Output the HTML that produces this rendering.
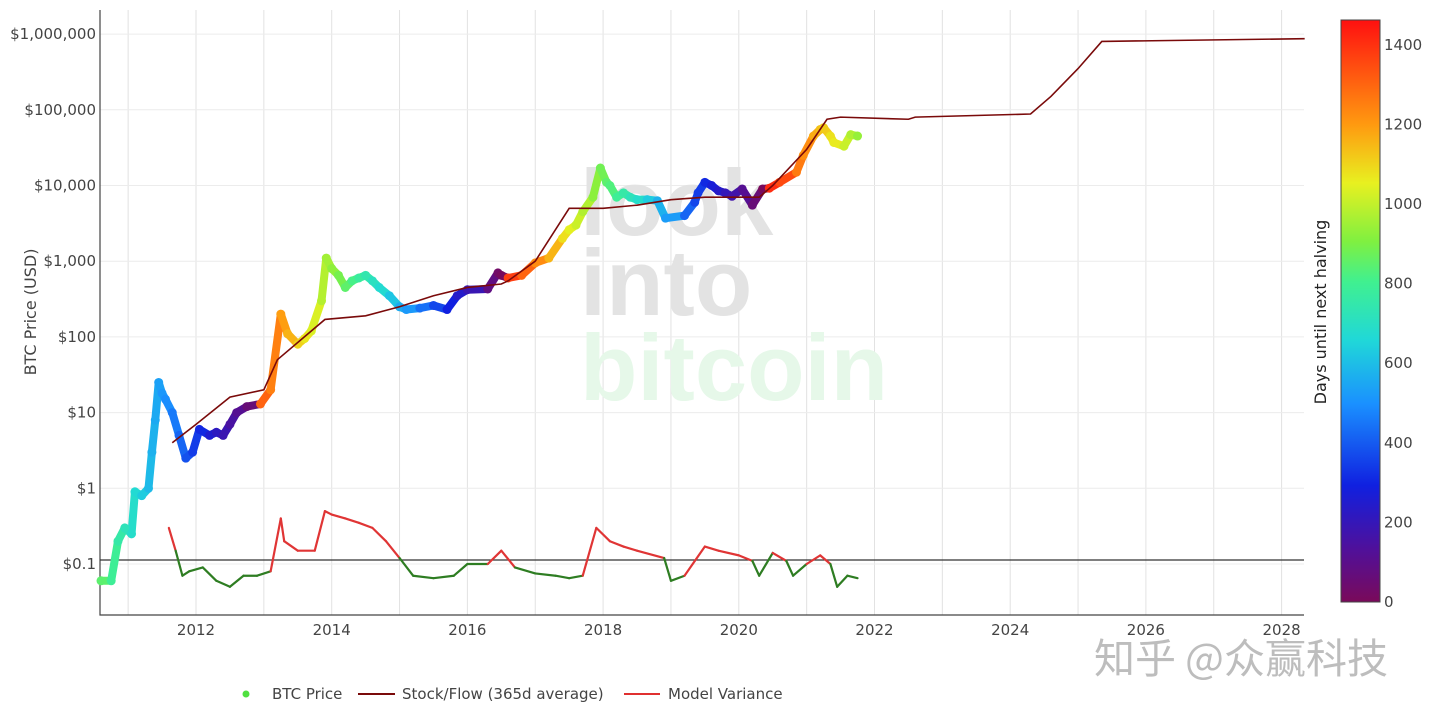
<!DOCTYPE html>
<html><head><meta charset="utf-8"><style>
html,body{margin:0;padding:0;background:#fff;width:1440px;height:717px;overflow:hidden;font-family:"Liberation Sans","Noto Sans CJK SC",sans-serif}
svg text{font-family:"DejaVu Sans","Liberation Sans","Noto Sans CJK SC",sans-serif}
</style></head><body>
<svg id="chart" width="1440" height="717" xmlns="http://www.w3.org/2000/svg">
<defs>
<linearGradient id="cbg" x1="0" y1="1" x2="0" y2="0">
<stop offset="0" stop-color="#7a0a5a"/><stop offset="0.09" stop-color="#50109a"/><stop offset="0.2" stop-color="#1020e0"/>
<stop offset="0.34" stop-color="#1a90ff"/><stop offset="0.45" stop-color="#20d8d8"/><stop offset="0.55" stop-color="#40f090"/>
<stop offset="0.62" stop-color="#80f040"/><stop offset="0.72" stop-color="#e8f020"/><stop offset="0.82" stop-color="#ff9a10"/>
<stop offset="1" stop-color="#ff1010"/></linearGradient>
</defs>
<g id="grid"></g>
<g font-weight="bold" font-size="94">
<text x="580" y="235" fill="#e3e3e3" style="font-family:'Liberation Sans',sans-serif">look</text>
<text x="580" y="315" fill="#e3e3e3" style="font-family:'Liberation Sans',sans-serif">into</text>
<text x="580" y="400" fill="#e6f8e9" style="font-family:'Liberation Sans',sans-serif">bitcoin</text>
</g>
<g id="axes"></g>
<g id="marks"></g>
<text transform="translate(36,312) rotate(-90)" text-anchor="middle" font-size="16" fill="#444">BTC Price (USD)</text>
<rect x="1341" y="20" width="39" height="582" fill="url(#cbg)" stroke="#444" stroke-width="1"/>
<text transform="translate(1326,312) rotate(-90)" text-anchor="middle" font-size="16" fill="#222">Days until next halving</text>
<g id="cbticks"></g>
<g font-size="15" fill="#444">
<g><circle cx="246" cy="694" r="3.5" fill="#50e040"/><text x="272" y="699">BTC Price</text></g>
<g><line x1="358" y1="694" x2="395" y2="694" stroke="#7a0a0a" stroke-width="2"/><text x="402" y="699">Stock/Flow (365d average)</text></g>
<g><line x1="624" y1="694" x2="660" y2="694" stroke="#e03030" stroke-width="2"/><text x="668" y="699">Model Variance</text></g>
</g>
<text x="1094" y="673" font-size="41" fill="#bdbdbd" style="font-family:'Noto Sans CJK SC',sans-serif">知乎 @众赢科技</text>
</svg>
<script>
const priceDates=[2010.6,2010.75,2010.85,2010.95,2011.05,2011.1,2011.2,2011.3,2011.35,2011.4,2011.45,2011.5,2011.55,2011.65,2011.75,2011.85,2011.95,2012.05,2012.2,2012.3,2012.4,2012.5,2012.6,2012.75,2012.95,2013.1,2013.25,2013.35,2013.5,2013.6,2013.7,2013.85,2013.92,2014.0,2014.1,2014.2,2014.3,2014.4,2014.5,2014.6,2014.7,2014.85,2015.0,2015.1,2015.3,2015.5,2015.7,2015.85,2016.0,2016.3,2016.45,2016.5,2016.6,2016.8,2017.0,2017.2,2017.4,2017.5,2017.6,2017.7,2017.85,2017.96,2018.05,2018.1,2018.2,2018.3,2018.4,2018.5,2018.65,2018.8,2018.92,2019.2,2019.35,2019.4,2019.5,2019.6,2019.7,2019.8,2019.9,2020.05,2020.2,2020.35,2020.45,2020.6,2020.85,2020.95,2021.1,2021.2,2021.25,2021.35,2021.4,2021.55,2021.65,2021.75];
const priceValues=[0.06,0.06,0.2,0.3,0.25,0.9,0.8,1,3,8,25,18,15,10,5,2.5,3,6,5,5.5,5,7,10,12,13,20,200,110,80,95,120,300,1100,800,650,450,550,600,650,550,450,350,250,230,240,260,230,350,420,430,700,650,600,650,950,1100,2000,2600,3000,4500,7000,17000,11000,10000,7000,8000,7000,6500,6500,6300,3700,4000,6000,8000,11000,10000,8500,8000,7200,9000,5500,9000,9200,11000,15000,25000,45000,55000,58000,45000,37000,33000,47000,45000];
const sfDates=[2011.65,2012.0,2012.5,2013.0,2013.2,2013.9,2014.5,2015.0,2015.5,2016.0,2016.5,2016.6,2017.0,2017.5,2018.0,2018.5,2019.0,2019.5,2020.3,2020.5,2021.0,2021.3,2021.5,2022.5,2022.6,2024.3,2024.6,2025.0,2025.35,2028.34];
const sfValues=[4,7,16,20,50,170,190,250,350,450,500,550,1000,5000,5000,5500,6500,7000,7000,10000,30000,75000,80000,75000,80000,88000,150000,350000,800000,870000];
const mvDates=[2011.6,2011.7,2011.8,2011.9,2012.1,2012.3,2012.5,2012.7,2012.9,2013.1,2013.25,2013.3,2013.5,2013.75,2013.9,2014.0,2014.2,2014.4,2014.6,2014.8,2015.0,2015.2,2015.5,2015.8,2016.0,2016.3,2016.5,2016.7,2017.0,2017.3,2017.5,2017.7,2017.9,2018.1,2018.3,2018.5,2018.9,2019.0,2019.2,2019.5,2019.7,2020.0,2020.2,2020.3,2020.5,2020.7,2020.8,2021.0,2021.2,2021.35,2021.45,2021.6,2021.75];
const mvValues=[0.3,0.15,0.07,0.08,0.09,0.06,0.05,0.07,0.07,0.08,0.4,0.2,0.15,0.15,0.5,0.45,0.4,0.35,0.3,0.2,0.12,0.07,0.065,0.07,0.1,0.1,0.15,0.09,0.075,0.07,0.065,0.07,0.3,0.2,0.17,0.15,0.12,0.06,0.07,0.17,0.15,0.13,0.11,0.07,0.14,0.11,0.07,0.1,0.13,0.1,0.05,0.07,0.065];
const yTicks=[0.1,1,10,100,1000,10000,100000,1000000];
const yTickLabels=["$0.1","$1","$10","$100","$1,000","$10,000","$100,000","$1,000,000"];
const xTicks=[2012,2014,2016,2018,2020,2022,2024,2026,2028];
const cbTicks=[0,200,400,600,800,1000,1200,1400];
const halvings=[2012.91,2016.52,2020.36,2024.3];
const refLevel=0.113;

const NS="http://www.w3.org/2000/svg";
const X0=100,X1=1304,Y0=10,Y1=615;
const xs=t=>196+(t-2012)*67.85;
const ys=v=>564-(Math.log10(v)+1)*75.7;
const cy=d=>602-d*0.398;
function mk(tag,attrs,parent){const e=document.createElementNS(NS,tag);for(const k in attrs)e.setAttribute(k,attrs[k]);parent.appendChild(e);return e;}
const stops=[[0,[122,10,90]],[130,[80,16,154]],[300,[16,32,224]],[500,[26,144,255]],[650,[32,216,216]],[800,[64,240,144]],[900,[128,240,64]],[1050,[232,240,32]],[1200,[255,154,16]],[1460,[255,16,16]]];
function col(d){for(let i=1;i<stops.length;i++){if(d<=stops[i][0]){const a=stops[i-1],b=stops[i],f=(d-a[0])/(b[0]-a[0]);const c=a[1].map((v,j)=>Math.round(v+(b[1][j]-v)*f));return `rgb(${c})`;}}return 'rgb(255,16,16)';}
function days(t){for(const h of halvings)if(t<h)return (h-t)*365;return 0;}

const grid=document.getElementById('grid');
for(let yr=2011;yr<=2028;yr++){const l=mk('line',{x1:xs(yr),x2:xs(yr),y1:Y0,y2:Y1,stroke:'#e2e2e2','stroke-width':1},grid);

}
const axes=document.getElementById('axes');
yTicks.forEach((v,i)=>{const l=mk('line',{x1:X0,x2:X1,y1:ys(v),y2:ys(v),stroke:'#ececec','stroke-width':1},grid);


const t=mk('text',{x:96,y:ys(v)+5,'text-anchor':'end','font-size':15,fill:'#444'},axes);t.textContent=yTickLabels[i];

});
xTicks.forEach(v=>{const t=mk('text',{x:xs(v),y:635,'text-anchor':'middle','font-size':15,fill:'#444'},axes);t.textContent=v;

});
const ax=mk('path',{d:`M${X0},${Y0}V${Y1}H${X1}`,fill:'none',stroke:'#444','stroke-width':1.2},axes);


const rl=mk('line',{x1:X0,x2:X1,y1:ys(refLevel),y2:ys(refLevel),stroke:'#333','stroke-width':1.3},axes);


const cbt=document.getElementById('cbticks');
cbTicks.forEach(v=>{const t=mk('text',{x:1384,y:cy(v)+5,'font-size':15,fill:'#444'},cbt);t.textContent=v;

});

const marks=document.getElementById('marks');
for(let i=0;i<mvDates.length-1;i++){const c=(mvValues[i]+mvValues[i+1])/2>refLevel?'#e03535':'#2e7d22';
const l=mk('line',{x1:xs(mvDates[i]),y1:ys(mvValues[i]),x2:xs(mvDates[i+1]),y2:ys(mvValues[i+1]),stroke:c,'stroke-width':2.2,'stroke-linecap':'round'},marks);

}
for(let i=0;i<priceDates.length-1;i++){const l=mk('line',{x1:xs(priceDates[i]),y1:ys(priceValues[i]),x2:xs(priceDates[i+1]),y2:ys(priceValues[i+1]),stroke:col(days(priceDates[i])),'stroke-width':8,'stroke-linecap':'round'},marks);

}
priceDates.forEach((t,i)=>{const c=mk('circle',{cx:xs(t),cy:ys(priceValues[i]),r:4.5,fill:col(days(t))},marks);

});
const sf=mk('polyline',{points:sfDates.map((t,i)=>xs(t)+','+ys(sfValues[i])).join(' '),fill:'none',stroke:'#7a0a0a','stroke-width':1.6},marks);


</script>
</body></html>
